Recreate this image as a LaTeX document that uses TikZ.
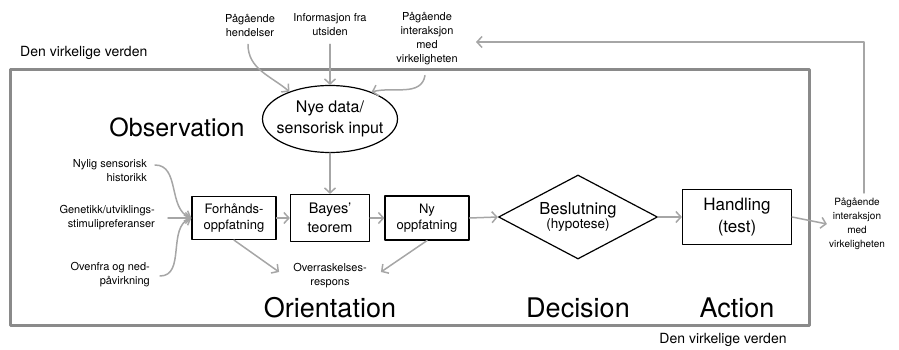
\documentclass[tikz,border=0pt]{standalone}
\usepackage{fontspec}
\setmainfont{TeX Gyre Heros}
\usetikzlibrary{arrows.meta}
\usetikzlibrary{shapes.geometric}
\usetikzlibrary{positioning}
\definecolor{pilgraa}{HTML}{A6A6A6}
\definecolor{rammegraa}{HTML}{8A8A8A}
\newcommand{\fsz}[2]{\fontsize{#1}{#2}\selectfont}

\begin{document}
\begin{tikzpicture}[line cap=round,line join=round,x=1pt,y=-1pt,
  >={Straight Barb[length=5pt,width=11pt]},
  pil/.style={->,draw=pilgraa,line width=1.5pt},
  liten/.style={align=center,inner sep=0pt,font=\fsz{11}{14}},
  boks/.style={draw,line width=1.2pt,inner sep=0pt,align=center},
  fase/.style={inner sep=0pt,font=\fsz{27}{27}}]
\useasboundingbox (0,0) rectangle (899,350);
% den virkelige verden
\draw [rammegraa,line width=3pt,line cap=butt] (10,70) rectangle (809,325);
\node [anchor=west,inner sep=0pt,font=\fsz{14}{14}] (verden1) at (20,53) {Den virkelige verden};
\node [inner sep=0pt,font=\fsz{14}{14}] (verden2) at (723,340) {Den virkelige verden};
% observasjon
\node [liten] (hend) at (250,25) {Pågående\\hendelser};
\node [liten] (info) at (330,25) {Informasjon fra\\utsiden};
\node [liten] (inter) at (427,39) {Pågående\\interaksjon\\med\\virkeligheten};
\node [draw,ellipse,line width=1.2pt,minimum width=135pt,minimum height=67pt,inner xsep=-10pt,inner ysep=0pt,
  align=center,font=\fsz{16}{21}] (nye) at (330,119) {Nye data/\\sensorisk input};
\node [fase,font=\fsz{25}{25}] (obs) at (177,127) {Observation};
\draw [pil] ([xshift=-2pt,yshift=-8pt]hend.south) to[out=-90,in=140] (nye.146);
\draw [pil] ([yshift=-8pt]info.south) -- (nye.north);
\draw [pil] ([xshift=-2pt,yshift=-10pt]inter.south) to[out=-100,in=15] (nye.33);
% orientering
\node [boks,minimum width=84pt,minimum height=43pt,font=\fsz{13}{16}] (forh) at (234,218) {Forhånds-\\oppfatning};
\node [boks,minimum width=79pt,minimum height=47pt,font=\fsz{14.5}{19}] (bayes) at (330,218) {Bayes'\\teorem};
\node [boks,minimum width=84pt,minimum height=44pt,font=\fsz{13}{16}] (ny) at (427,218) {Ny\\oppfatning};
\node [liten,align=right,anchor=east] (nylig) at (147,171) {Nylig sensorisk\\historikk};
\node [liten,align=right,anchor=east] (genet) at (155,218) {Genetikk/utviklings-\\stimulipreferanser};
\node [liten,align=right,anchor=east] (ovenfra) at (150,275) {Ovenfra og ned-\\påvirkning};
\node [liten] (overr) at (330,276) {Overraskelses-\\respons};
\node [fase] (orient) at (330,308) {Orientation};
\draw [pil] ([xshift=8pt,yshift=6pt]nylig.east) to[out=0,in=160] (forh.west);
\draw [pil] ([xshift=13pt]genet.east) -- (forh.west);
\draw [pil] ([xshift=10pt,yshift=-1pt]ovenfra.east) to[out=0,in=200] (forh.west);
\draw [pil] (nye.south) -- (bayes.north);
\draw [pil] (forh.east) -- (bayes.west);
\draw [pil] (bayes.east) -- (ny.west);
\draw [pil] (forh.south) -- ([xshift=-14pt,yshift=4pt]overr.west);
\draw [pil] (ny.south) -- ([xshift=14pt,yshift=4pt]overr.east);
% beslutning og handling
\node [draw,diamond,line width=1.2pt,aspect=1.9,minimum width=159pt,minimum height=84pt,
  inner sep=0pt,align=center] (beslut) at (578,217) {{\fsz{16.5}{20}Beslutning}\\{\fsz{13.5}{16}(hypotese)}};
\node [boks,minimum width=109pt,minimum height=55pt,font=\fsz{17}{22}] (hand) at (737,217) {Handling\\(test)};
\node [fase] (besl) at (578,308) {Decision};
\node [fase] (akt) at (737,308) {Action};
\node [liten,font=\fsz{10}{14}] (rinter) at (857,224) {Pågående\\interaksjon\\med\\virkeligheten};
\coordinate (tilbake) at (476,42);
\draw [pil] (ny.east) -- (beslut.west);
\draw [pil] (beslut.east) -- (hand.west);
\draw [pil] (hand.east) -- ([xshift=-2pt]rinter.west);
\draw [pil] ([xshift=7pt,yshift=5pt]rinter.north) |- (tilbake);
\end{tikzpicture}
\end{document}
